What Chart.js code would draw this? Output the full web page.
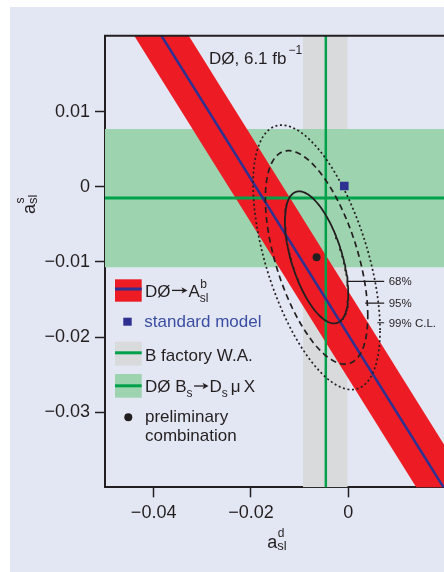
<!DOCTYPE html>
<html>
<head>
<meta charset="utf-8">
<script src="https://cdn.jsdelivr.net/npm/chart.js@4.4.1/dist/chart.umd.min.js"></script>
<style>
  html, body { margin: 0; padding: 0; background: #ffffff; overflow: hidden; }
  #panel { position: absolute; left: 10px; top: 7px; width: 434px; height: 565px; background: #e3e7f3; }
  canvas { display: block; }
</style>
</head>
<body>
<div id="panel"><canvas id="chart" width="434" height="565"></canvas></div>
<script>
// ---- axis ticks ----
const xTickValues = [-0.04, -0.02, 0];
const xTickLabels = ['\u22120.04', '\u22120.02', '0'];
const yTickValues = [-0.03, -0.02, -0.01, 0, 0.01];
const yTickLabels = ['\u22120.03', '\u22120.02', '\u22120.01', '0', '0.01'];

// ---- B factory world average of a_sl^d (central value, 1 sigma band) ----
const bFactoryCentre = -0.0046;
const bFactoryBand = [-0.0093, -0.0001];

// ---- DØ B_s -> D_s mu X measurement of a_sl^s ----
const bsDsCentre = -0.0015;
const bsDsBand = [-0.0107, 0.0077];

// ---- DØ dimuon A_sl^b constraint: central line (a_sl^d at two a_sl^s values) ----
const aslbS = [0.06, -0.08];
const aslbD = [-0.0769, 0.0582];
const aslbHalfWidth = 0.0056;   // band half-width along a_sl^d

// ---- preliminary combination ----
const comboD = -0.0065;
const comboS = -0.0094;
const comboSigma = [0.0043, 0.0058];   // [a_sl^d, a_sl^s]
const comboRho = -0.55;
const contourLabels = ['68%', '95%', '99% C.L.'];
const contourScale = [1.515, 2.448, 3.035];  // sqrt of chi2 (2 dof) for 68 / 95 / 99 %

// ---- standard model expectation ----
const smPoint = [-0.0008, 0.0001];

// ---- leader lines from the contours to their labels ----
const leaderStart = [-0.0003, 0.0035, 0.0060];
const leaderEnd = [0.0074, 0.0074, 0.0074];
const leaderS = [-0.0126, -0.0155, -0.0181];

const FONT = "'Liberation Sans', Arial, Helvetica, sans-serif";
const INK = '#231f20';
const RED = '#ed1c24';
const BLUE = '#2e3192';
const GREEN = '#00a14b';
const GREEN_BAND = '#9dd3ae';
const GREY_BAND = '#d9dadc';
const SM_TEXT = '#3b4ea2';

// closed contour of the combination for a given scale factor
function contour(k) {
  const pts = [];
  const r = Math.sqrt(1 - comboRho * comboRho);
  for (let i = 0; i <= 180; i++) {
    const t = (i / 180) * 2 * Math.PI;
    pts.push({
      x: comboD + k * comboSigma[0] * Math.cos(t),
      y: comboS + k * comboSigma[1] * (comboRho * Math.cos(t) + r * Math.sin(t))
    });
  }
  return pts;
}

const base = { pointRadius: 0, pointHoverRadius: 0, tension: 0, fill: false };

const datasets = [
  // B factory band (vertical strip)
  Object.assign({}, base, {
    data: bFactoryBand.map(x => ({ x, y: 0.05 })),
    fill: { value: -0.06 }, backgroundColor: GREY_BAND, borderWidth: 0, order: 10
  }),
  // DØ Bs -> Ds mu X band (horizontal strip)
  Object.assign({}, base, {
    data: [{ x: -0.06, y: bsDsBand[1] }, { x: 0.03, y: bsDsBand[1] }],
    fill: { value: bsDsBand[0] }, backgroundColor: GREEN_BAND, borderWidth: 0, order: 9
  }),
  // A_sl^b band
  Object.assign({}, base, {
    data: [
      { x: aslbD[0] - aslbHalfWidth, y: aslbS[0] },
      { x: aslbD[1] - aslbHalfWidth, y: aslbS[1] },
      { x: aslbD[1] + aslbHalfWidth, y: aslbS[1] },
      { x: aslbD[0] + aslbHalfWidth, y: aslbS[0] }
    ],
    fill: 'shape', backgroundColor: RED, borderWidth: 0, order: 8
  }),
  // central values of the two measurements
  Object.assign({}, base, {
    data: [{ x: bFactoryCentre, y: 0.05 }, { x: bFactoryCentre, y: -0.06 }],
    borderColor: GREEN, borderWidth: 2.5, order: 7
  }),
  Object.assign({}, base, {
    data: [{ x: -0.06, y: bsDsCentre }, { x: 0.03, y: bsDsCentre }],
    borderColor: GREEN, borderWidth: 3, order: 7
  }),
  // A_sl^b central line
  Object.assign({}, base, {
    data: aslbS.map((s, i) => ({ x: aslbD[i], y: s })),
    borderColor: BLUE, borderWidth: 2.5, order: 6
  }),
  // combination contours
  Object.assign({}, base, { data: contour(contourScale[0]), borderColor: INK, borderWidth: 1.8, order: 5 }),
  Object.assign({}, base, { data: contour(contourScale[1]), borderColor: INK, borderWidth: 1.7, borderDash: [6, 4], order: 5 }),
  Object.assign({}, base, { data: contour(contourScale[2]), borderColor: INK, borderWidth: 1.7, borderDash: [2, 2.6], order: 5 })
];

// leader lines
leaderS.forEach((s, i) => {
  datasets.push(Object.assign({}, base, {
    data: [{ x: leaderStart[i], y: s }, { x: leaderEnd[i], y: s }],
    borderColor: INK, borderWidth: 1.2, order: 4
  }));
});

// combination best fit and standard model point
datasets.push({
  data: [{ x: comboD, y: comboS }], showLine: false,
  pointRadius: 4, pointHoverRadius: 4, pointBackgroundColor: INK, pointBorderWidth: 0, order: 1
});
datasets.push({
  data: [{ x: smPoint[0], y: smPoint[1] }], showLine: false, pointStyle: 'rect',
  pointRadius: 6.1, pointHoverRadius: 6.1, pointBackgroundColor: BLUE, pointBorderWidth: 0, order: 1
});

// text made of runs: {t, size, dy, dx, color} | {stack:[sup, sub]} | {arrow: length}
function drawRuns(ctx, x, y, runs, color) {
  let cx = x;
  runs.forEach(r => {
    if (r.stack) {
      let w = 0;
      r.stack.forEach(s => {
        ctx.font = s.size + 'px ' + FONT;
        ctx.fillStyle = s.color || color;
        ctx.fillText(s.t, cx + (s.dx || 0), y + s.dy);
        w = Math.max(w, ctx.measureText(s.t).width + (s.dx || 0));
      });
      cx += w;
    } else if (r.arrow) {
      const ay = y - 6.3;
      const x0 = cx + 1.5, x1 = cx + r.arrow - 1;
      ctx.strokeStyle = color;
      ctx.fillStyle = color;
      ctx.lineWidth = 1.3;
      ctx.beginPath();
      ctx.moveTo(x0, ay);
      ctx.lineTo(x1 - 3, ay);
      ctx.stroke();
      ctx.beginPath();
      ctx.moveTo(x1, ay);
      ctx.lineTo(x1 - 6, ay - 3.2);
      ctx.lineTo(x1 - 4.5, ay);
      ctx.lineTo(x1 - 6, ay + 3.2);
      ctx.closePath();
      ctx.fill();
      cx += r.arrow;
    } else {
      ctx.font = r.size + 'px ' + FONT;
      ctx.fillStyle = r.color || color;
      ctx.fillText(r.t, cx + (r.dx || 0), y + (r.dy || 0));
      cx += ctx.measureText(r.t).width + (r.dx || 0);
    }
  });
  return cx;
}

const decorations = {
  id: 'decorations',
  afterDatasetsDraw(chart) {
    const { ctx, chartArea } = chart;
    ctx.save();
    ctx.strokeStyle = INK;
    ctx.lineWidth = 2;
    ctx.beginPath();
    ctx.moveTo(chartArea.left - 1, chartArea.top);
    ctx.lineTo(chartArea.right, chartArea.top);
    ctx.stroke();
    ctx.restore();
  },
  afterDraw(chart) {
    const { ctx, scales } = chart;
    const xs = scales.x, ys = scales.y;
    ctx.save();
    ctx.textBaseline = 'alphabetic';
    ctx.textAlign = 'left';

    // luminosity label
    drawRuns(ctx, 199, 57, [
      { t: 'D\u00d8, 6.1 fb', size: 17 },
      { t: '\u22121', size: 12, dy: -10, dx: 2 }
    ], INK);

    // contour labels
    contourLabels.forEach((lab, i) => {
      ctx.font = '11.5px ' + FONT;
      ctx.fillStyle = INK;
      ctx.fillText(lab, xs.getPixelForValue(leaderEnd[i]) + 4.5, ys.getPixelForValue(leaderS[i]) + 4);
    });

    // x axis title
    drawRuns(ctx, 257.3, 541, [
      { t: 'a', size: 18 },
      { stack: [{ t: 'd', size: 12, dy: -10.7, dx: 0.5 }, { t: 'sl', size: 13, dy: 2, dx: 0 }] }
    ], INK);

    // y axis title
    ctx.save();
    ctx.translate(25, 207);
    ctx.rotate(-Math.PI / 2);
    drawRuns(ctx, 0, 0, [
      { t: 'a', size: 18 },
      { stack: [{ t: 's', size: 12, dy: -10.7, dx: 0.5 }, { t: 'sl', size: 13, dy: 2, dx: 0 }] }
    ], INK);
    ctx.restore();

    // legend
    const bx = 105, bw = 26.7;
    // row 1: A_sl^b band with central line
    ctx.fillStyle = RED;
    ctx.fillRect(bx, 272.3, bw, 22.4);
    ctx.fillStyle = BLUE;
    ctx.fillRect(bx, 280.5, bw, 3);
    drawRuns(ctx, 135, 289.7, [
      { t: 'D\u00d8', size: 17 },
      { arrow: 18 },
      { t: 'A', size: 17 },
      { stack: [{ t: 'b', size: 12, dy: -8.4, dx: 0.5 }, { t: 'sl', size: 12, dy: 5, dx: 0 }] }
    ], INK);
    // row 2: standard model
    ctx.fillStyle = BLUE;
    ctx.fillRect(113.3, 310.7, 8.4, 8);
    drawRuns(ctx, 134.3, 319.7, [{ t: 'standard model', size: 17 }], SM_TEXT);
    // row 3: B factory
    ctx.fillStyle = GREY_BAND;
    ctx.fillRect(bx, 334.7, bw, 24);
    ctx.fillStyle = GREEN;
    ctx.fillRect(bx, 344.3, bw, 3);
    drawRuns(ctx, 135, 353.7, [{ t: 'B factory W.A.', size: 17 }], INK);
    // row 4: Bs -> Ds mu X
    ctx.fillStyle = GREEN_BAND;
    ctx.fillRect(bx, 367, bw, 23.7);
    ctx.fillStyle = GREEN;
    ctx.fillRect(bx, 377.3, bw, 3);
    drawRuns(ctx, 135, 385.3, [
      { t: 'D\u00d8 B', size: 17 },
      { t: 's', size: 12, dy: 5 },
      { arrow: 17 },
      { t: 'D', size: 17 },
      { t: 's', size: 12, dy: 5 },
      { t: '\u03bc', size: 17, dx: 3 },
      { t: 'X', size: 17, dx: 3 }
    ], INK);
    // row 5: combination
    ctx.fillStyle = INK;
    ctx.beginPath();
    ctx.arc(118.3, 410.3, 4, 0, Math.PI * 2);
    ctx.fill();
    drawRuns(ctx, 135, 414.7, [{ t: 'preliminary', size: 17 }], INK);
    drawRuns(ctx, 135, 433.7, [{ t: 'combination', size: 17 }], INK);

    ctx.restore();
  }
};

new Chart(document.getElementById('chart'), {
  type: 'line',
  data: { datasets },
  options: {
    responsive: false,
    animation: false,
    events: [],
    devicePixelRatio: 1,
    layout: { autoPadding: false, padding: { top: 28.7, right: 0, left: 0, bottom: 0 } },
    plugins: { legend: { display: false }, tooltip: { enabled: false } },
    scales: {
      x: {
        type: 'linear', min: -0.05, max: 0.0197, z: 1,
        afterBuildTicks: s => { s.ticks = xTickValues.map(v => ({ value: v })); },
        afterFit: s => { s.height = 84.7; },
        ticks: {
          callback: (v, i) => xTickLabels[i],
          font: { family: FONT, size: 18 }, color: INK, padding: 5,
          maxRotation: 0, autoSkip: false
        },
        grid: { display: true, drawOnChartArea: false, drawTicks: true, tickLength: 10, tickColor: INK, tickWidth: 1.5 },
        border: { display: true, color: INK, width: 2 }
      },
      y: {
        type: 'linear', min: -0.04, max: 0.0201, z: 1,
        afterBuildTicks: s => { s.ticks = yTickValues.map(v => ({ value: v })); },
        afterFit: s => { s.width = 95; },
        ticks: {
          callback: (v, i) => yTickLabels[i],
          font: { family: FONT, size: 18 }, color: INK, padding: 5, autoSkip: false
        },
        grid: { display: true, drawOnChartArea: false, drawTicks: true, tickLength: 10, tickColor: INK, tickWidth: 1.5 },
        border: { display: true, color: INK, width: 2 }
      }
    }
  },
  plugins: [decorations]
});
</script>
</body>
</html>
